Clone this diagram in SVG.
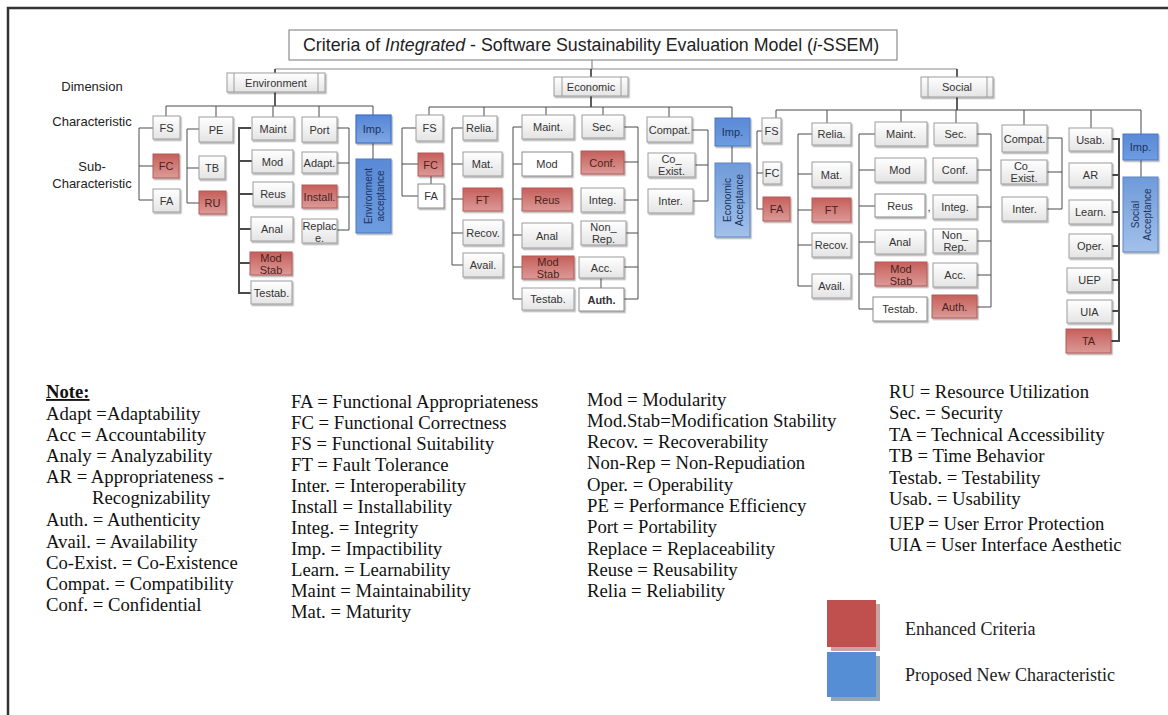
<svg xmlns="http://www.w3.org/2000/svg" width="1168" height="715" viewBox="0 0 1168 715">
<defs>
<linearGradient id="gw" x1="0" y1="0" x2="0" y2="1"><stop offset="0" stop-color="#ffffff"/><stop offset="1" stop-color="#e4e4e4"/></linearGradient>
<linearGradient id="gr" x1="0" y1="0" x2="0" y2="1"><stop offset="0" stop-color="#c65f5b"/><stop offset="1" stop-color="#dc9a97"/></linearGradient>
<linearGradient id="gb" x1="0" y1="0" x2="0" y2="1"><stop offset="0" stop-color="#5686d6"/><stop offset="1" stop-color="#7ea6e2"/></linearGradient>
<linearGradient id="gbd" x1="0" y1="0" x2="0" y2="1"><stop offset="0" stop-color="#5a8ad6"/><stop offset="1" stop-color="#6e9ce0"/></linearGradient>
<linearGradient id="gbl" x1="0" y1="0" x2="0" y2="1"><stop offset="0" stop-color="#6f9bd9"/><stop offset="1" stop-color="#a2c1ea"/></linearGradient>
<filter id="sh" x="-20%" y="-20%" width="140%" height="140%"><feDropShadow dx="1.2" dy="1.5" stdDeviation="0.7" flood-color="#000" flood-opacity="0.3"/></filter>
</defs>
<style>
.n{fill:url(#gw);stroke:#9c9c9c;stroke-width:1;filter:url(#sh)}
.w{fill:#fff;stroke:#8a8a8a;stroke-width:1;filter:url(#sh)}
.r{fill:url(#gr);stroke:#b25b58;stroke-width:1;filter:url(#sh)}
.b{fill:url(#gb);stroke:#3f6fd0;stroke-width:1.2;filter:url(#sh)}
.bd{fill:url(#gbd);stroke:#4a78c4;stroke-width:1;filter:url(#sh)}
.bl{fill:url(#gbl);stroke:#5f86c4;stroke-width:1;filter:url(#sh)}
.d{fill:url(#gw);stroke:#9c9c9c;stroke-width:1;filter:url(#sh)}
.il{stroke:#9c9c9c;stroke-width:1}
.t{font-family:"Liberation Sans",Arial,sans-serif;font-size:11px;fill:#333;text-anchor:middle}
.tr{fill:#4a2220}
.tb{fill:#1c3360}
.tv{font-family:"Liberation Sans",Arial,sans-serif;font-size:10px;fill:#1c3360;text-anchor:middle}
.lab{font-family:"Liberation Sans",Arial,sans-serif;font-size:13px;fill:#222;text-anchor:middle}
.c{fill:none;stroke:#4a4a4a;stroke-width:1}
.ck{fill:none;stroke:#2a2a2a;stroke-width:1.5}
.cg{fill:none;stroke:#8a8a8a;stroke-width:1.2}
.note{font-family:"Liberation Serif","Times New Roman",serif;font-size:18.7px;fill:#111}
.leg{font-family:"Liberation Serif","Times New Roman",serif;font-size:18px;fill:#222}
</style>
<rect width="1168" height="715" fill="#fff"/>
<path d="M8 715V8H1168" fill="none" stroke="#333" stroke-width="2.5"/>

<g id="title"><rect x="289" y="30" width="608" height="30" fill="#fff" stroke="#777" stroke-width="1"/>
<text x="303" y="51" font-family="Liberation Sans,Arial,sans-serif" font-size="17.8" fill="#222">Criteria of <tspan font-style="italic">Integrated</tspan> - Software Sustainability Evaluation Model (<tspan font-style="italic">i</tspan>-SSEM)</text></g>

<g id="labels">
<text class="lab" x="92" y="91">Dimension</text>
<text class="lab" x="92" y="126">Characteristic</text>
<text class="lab" x="92" y="171">Sub-</text>
<text class="lab" x="92" y="188">Characteristic</text>
</g>

<g id="connectors">
<path class="cg" d="M592 60V69M275 69H957"/>
<path class="ck" d="M275 69V73M591 69V77M957 69V77"/>
<path class="ck" d="M275 92V106M591 96V107M957 97V110"/>
<path class="c" d="M166 106H373M166 106V116M216 106V117M273 106V117M319 106V117M373 106V115"/>
<path class="c" d="M153 128H139V200H153M139 166H153"/>
<path class="c" d="M199 129H187V203H199M187 168H199"/>
<path class="c" style="stroke-width:2" d="M251 128H239V293H251M239 161H252M239 194H253M239 229H251M239 263H250"/>
<path class="c" d="M337 128H349V230H337M337 163H349M337 197H349"/>
<path class="c" d="M373 143V159"/>

<path class="c" d="M429 107H732M429 107V115M484 107V116M546 107V115M603 107V115M669 107V117M732 107V118"/>
<path class="c" d="M416 128H402V196H418M402 164H418M431 176V184"/>
<path class="c" d="M463 128H452V265H463M452 164H463M452 199H463M452 233H463"/>
<path class="c" d="M522 127H513V299H522M513 164H522M513 199H522M513 235H522M513 267H522"/>
<path class="c" d="M624 127H638V299H624M624 162H638M624 200H638M626 233H638M624 267H638M601 278V288"/>
<path class="c" d="M692 130H708V201H693M695 165H708"/>
<path class="c" d="M732 146V163"/>

<path class="c" d="M776 110H1141M776 110V118M827 110V123M901 110V122M956 110V123M1024 110V125M1091 110V128M1141 110V134"/>
<path class="c" d="M762 131H757V209H763M757 173H763"/>
<path class="c" d="M812 134H798V286H812M798 174H812M798 210H812M798 245H812"/>
<path class="c" d="M875 134H859V309H873M859 170H875M859 206H875M859 242H875M859 274H875"/>
<path class="c" d="M977 134H991V307H977M977 170H991M977 207H991M977 241H991M977 275H991"/>
<path class="c" d="M1047 138H1062V209H1047M1047 172H1062"/>
<path class="c" style="stroke-width:2" d="M1112 139H1119V341H1111M1112 175H1119M1112 212H1119M1112 246H1119M1112 280H1119M1112 311H1119"/>
<path class="c" d="M1141 160V177"/>
</g>

<g id="environment"><rect class="d" x="227" y="73" width="98" height="19"/><path class="il" d="M234 73V92M318 73V92"/><text class="t" x="276" y="86.5" font-size="10.5">Environment</text></g>
<g id="env-fs"><rect class="n" x="153" y="116" width="27" height="23"/><text class="t" x="166.5" y="131.5">FS</text></g>
<g id="env-pe"><rect class="n" x="199" y="117" width="34" height="25"/><text class="t" x="216" y="133.5">PE</text></g>
<g id="env-maint"><rect class="n" x="252" y="117" width="42" height="23"/><text class="t" x="273" y="132.5">Maint</text></g>
<g id="env-port"><rect class="n" x="302" y="117" width="35" height="25"/><text class="t" x="319.5" y="133.5">Port</text></g>
<g id="env-imp"><rect class="b" x="356" y="115" width="35" height="28"/><text class="t tb" x="373.5" y="133">Imp.</text></g>
<g id="env-fc"><rect class="r" x="153" y="154" width="26" height="24"/><text class="t tr" x="166" y="170">FC</text></g>
<g id="env-fa"><rect class="n" x="153" y="189" width="27" height="23"/><text class="t" x="166.5" y="204.5">FA</text></g>
<g id="env-tb"><rect class="n" x="199" y="156" width="26" height="23"/><text class="t" x="212" y="171.5">TB</text></g>
<g id="env-ru"><rect class="r" x="199" y="191" width="27" height="23"/><text class="t tr" x="212.5" y="206.5">RU</text></g>
<g id="env-mod"><rect class="n" x="252" y="150" width="41" height="23"/><text class="t" x="272.5" y="165.5">Mod</text></g>
<g id="env-reus"><rect class="n" x="253" y="182" width="40" height="24"/><text class="t" x="273" y="198">Reus</text></g>
<g id="env-anal"><rect class="n" x="251" y="217" width="42" height="24"/><text class="t" x="272" y="233">Anal</text></g>
<g id="env-modstab"><rect class="r" x="250" y="252" width="42" height="23"/><text class="t tr" x="271"><tspan x="271" y="262">Mod</tspan><tspan x="271" y="274">Stab</tspan></text></g>
<g id="env-testab"><rect class="n" x="251" y="281" width="41" height="23"/><text class="t" x="271.5" y="296.5">Testab.</text></g>
<g id="env-adapt"><rect class="n" x="302" y="152" width="35" height="21"/><text class="t" x="319.5" y="166.5">Adapt.</text></g>
<g id="env-install"><rect class="r" x="302" y="185" width="35" height="23"/><text class="t tr" x="319.5" y="200.5">Install.</text></g>
<g id="env-replace"><rect class="n" x="302" y="219" width="35" height="24"/><text class="t"><tspan x="319.5" y="230">Replac</tspan><tspan x="319.5" y="242">e.</tspan></text></g>
<g id="env-acceptance"><rect class="bd" x="356" y="159" width="35" height="74"/><text class="tv" transform="translate(373.5 196) rotate(-90)"><tspan x="0" y="-2">Environment</tspan><tspan x="0" y="10">acceptance</tspan></text></g>

<g id="economic"><rect class="d" x="554" y="77" width="74" height="19"/><path class="il" d="M562 77V96M621 77V96"/><text class="t" x="591" y="90.5" font-size="10.5">Economic</text></g>
<g id="eco-fs"><rect class="n" x="416" y="115" width="27" height="26"/><text class="t" x="429.5" y="132">FS</text></g>
<g id="eco-relia"><rect class="n" x="463" y="116" width="34" height="24"/><text class="t" x="480" y="132">Relia.</text></g>
<g id="eco-maint"><rect class="n" x="522" y="115" width="52" height="24"/><text class="t" x="548" y="131">Maint.</text></g>
<g id="eco-sec"><rect class="n" x="582" y="115" width="42" height="23"/><text class="t" x="603" y="130.5">Sec.</text></g>
<g id="eco-compat"><rect class="n" x="647" y="117" width="45" height="25"/><text class="t" x="669.5" y="133.5">Compat.</text></g>
<g id="eco-imp"><rect class="bd" x="715" y="118" width="35" height="28"/><text class="t tb" x="732.5" y="136">Imp.</text></g>
<g id="eco-fc"><rect class="r" x="418" y="153" width="25" height="23"/><text class="t tr" x="430.5" y="168.5">FC</text></g>
<g id="eco-fa"><rect class="w" x="418" y="184" width="26" height="24"/><text class="t" x="431" y="200">FA</text></g>
<g id="eco-mat"><rect class="n" x="463" y="152" width="39" height="24"/><text class="t" x="482.5" y="168">Mat.</text></g>
<g id="eco-ft"><rect class="r" x="463" y="188" width="39" height="23"/><text class="t tr" x="482.5" y="203.5">FT</text></g>
<g id="eco-recov"><rect class="n" x="463" y="220" width="40" height="25"/><text class="t" x="483" y="236.5">Recov.</text></g>
<g id="eco-avail"><rect class="n" x="463" y="253" width="40" height="24"/><text class="t" x="483" y="269">Avail.</text></g>
<g id="eco-mod"><rect class="w" x="522" y="152" width="50" height="24"/><text class="t" x="547" y="168">Mod</text></g>
<g id="eco-reus"><rect class="r" x="522" y="188" width="50" height="23"/><text class="t tr" x="547" y="203.5">Reus</text></g>
<g id="eco-anal"><rect class="n" x="522" y="223" width="50" height="25"/><text class="t" x="547" y="239.5">Anal</text></g>
<g id="eco-modstab"><rect class="r" x="522" y="256" width="52" height="23"/><text class="t tr"><tspan x="548" y="266">Mod</tspan><tspan x="548" y="278">Stab</tspan></text></g>
<g id="eco-testab"><rect class="n" x="522" y="288" width="52" height="22"/><text class="t" x="548" y="303">Testab.</text></g>
<g id="eco-conf"><rect class="r" x="581" y="151" width="43" height="23"/><text class="t tr" x="602.5" y="166.5">Conf.</text></g>
<g id="eco-integ"><rect class="n" x="581" y="188" width="43" height="24"/><text class="t" x="602.5" y="204">Integ.</text></g>
<g id="eco-nonrep"><rect class="n" x="581" y="221" width="45" height="24"/><text class="t"><tspan x="603.5" y="231">Non_</tspan><tspan x="603.5" y="243">Rep.</tspan></text></g>
<g id="eco-acc"><rect class="n" x="579" y="257" width="45" height="21"/><text class="t" x="601.5" y="271.5">Acc.</text></g>
<g id="eco-auth"><rect class="w" x="579" y="288" width="45" height="23"/><text class="t" x="601.5" y="303.5" font-weight="bold" fill="#222">Auth.</text></g>
<g id="eco-coexist"><rect class="n" x="648" y="153" width="47" height="24"/><text class="t"><tspan x="671.5" y="163">Co_</tspan><tspan x="671.5" y="175">Exist.</tspan></text></g>
<g id="eco-inter"><rect class="n" x="648" y="189" width="45" height="24"/><text class="t" x="670.5" y="205">Inter.</text></g>
<g id="eco-acceptance"><rect class="bl" x="715" y="163" width="35" height="74"/><text class="tv" transform="translate(732.5 200) rotate(-90)"><tspan x="0" y="-2">Economic</tspan><tspan x="0" y="10">Acceptance</tspan></text></g>

<g id="social"><rect class="d" x="921" y="77" width="72" height="20"/><path class="il" d="M928 77V97M987 77V97"/><text class="t" x="957" y="91" font-size="10.5">Social</text></g>
<g id="soc-fs"><rect class="n" x="762" y="118" width="19" height="25"/><text class="t" x="771.5" y="134.5" font-size="10">FS</text></g>
<g id="soc-relia"><rect class="n" x="812" y="123" width="39" height="22"/><text class="t" x="831.5" y="138">Relia.</text></g>
<g id="soc-maint"><rect class="n" x="875" y="122" width="52" height="24"/><text class="t" x="901" y="138">Maint.</text></g>
<g id="soc-sec"><rect class="n" x="934" y="123" width="43" height="22"/><text class="t" x="955.5" y="138">Sec.</text></g>
<g id="soc-compat"><rect class="n" x="1002" y="125" width="45" height="27"/><text class="t" x="1024.5" y="142.5">Compat.</text></g>
<g id="soc-usab"><rect class="n" x="1069" y="128" width="43" height="23"/><text class="t" x="1090.5" y="143.5">Usab.</text></g>
<g id="soc-imp"><rect class="bd" x="1123" y="134" width="35" height="26"/><text class="t tb" x="1140.5" y="151">Imp.</text></g>
<g id="soc-fc"><rect class="n" x="763" y="162" width="18" height="22"/><text class="t" x="772" y="177" font-size="10">FC</text></g>
<g id="soc-fa"><rect class="r" x="763" y="197" width="27" height="24"/><text class="t tr" x="776.5" y="213">FA</text></g>
<g id="soc-mat"><rect class="n" x="812" y="162" width="39" height="25"/><text class="t" x="831.5" y="178.5">Mat.</text></g>
<g id="soc-ft"><rect class="r" x="812" y="198" width="39" height="24"/><text class="t tr" x="831.5" y="214">FT</text></g>
<g id="soc-recov"><rect class="n" x="812" y="233" width="39" height="24"/><text class="t" x="831.5" y="249">Recov.</text></g>
<g id="soc-avail"><rect class="n" x="812" y="274" width="39" height="24"/><text class="t" x="831.5" y="290">Avail.</text></g>
<g id="soc-mod"><rect class="n" x="875" y="158" width="50" height="24"/><text class="t" x="900" y="174">Mod</text></g>
<g id="soc-reus"><rect class="w" x="875" y="194" width="50" height="23"/><text class="t" x="900" y="209.5">Reus</text><text class="t" x="929" y="211">,</text></g>
<g id="soc-anal"><rect class="n" x="875" y="230" width="50" height="24"/><text class="t" x="900" y="246">Anal</text></g>
<g id="soc-modstab"><rect class="r" x="875" y="262" width="52" height="24"/><text class="t tr"><tspan x="901" y="272.5">Mod</tspan><tspan x="901" y="284.5">Stab</tspan></text></g>
<g id="soc-testab"><rect class="w" x="873" y="297" width="54" height="24"/><text class="t" x="900" y="313">Testab.</text></g>
<g id="soc-conf"><rect class="n" x="933" y="158" width="44" height="24"/><text class="t" x="955" y="174">Conf.</text></g>
<g id="soc-integ"><rect class="n" x="933" y="195" width="44" height="24"/><text class="t" x="955" y="211">Integ.</text></g>
<g id="soc-nonrep"><rect class="n" x="933" y="229" width="44" height="24"/><text class="t"><tspan x="955" y="239">Non_</tspan><tspan x="955" y="251">Rep.</tspan></text></g>
<g id="soc-acc"><rect class="n" x="933" y="263" width="44" height="24"/><text class="t" x="955" y="279">Acc.</text></g>
<g id="soc-auth"><rect class="r" x="932" y="295" width="45" height="23"/><text class="t tr" x="954.5" y="310.5">Auth.</text></g>
<g id="soc-coexist"><rect class="n" x="1001" y="160" width="46" height="24"/><text class="t"><tspan x="1024" y="170">Co_</tspan><tspan x="1024" y="182">Exist.</tspan></text></g>
<g id="soc-inter"><rect class="n" x="1002" y="197" width="45" height="24"/><text class="t" x="1024.5" y="213">Inter.</text></g>
<g id="soc-ar"><rect class="n" x="1069" y="163" width="43" height="24"/><text class="t" x="1090.5" y="179">AR</text></g>
<g id="soc-learn"><rect class="n" x="1069" y="200" width="43" height="24"/><text class="t" x="1090.5" y="216">Learn.</text></g>
<g id="soc-oper"><rect class="n" x="1069" y="234" width="43" height="24"/><text class="t" x="1090.5" y="250">Oper.</text></g>
<g id="soc-uep"><rect class="n" x="1067" y="268" width="45" height="24"/><text class="t" x="1089.5" y="284">UEP</text></g>
<g id="soc-uia"><rect class="n" x="1067" y="300" width="45" height="23"/><text class="t" x="1089.5" y="315.5">UIA</text></g>
<g id="soc-ta"><rect class="r" x="1066" y="329" width="45" height="24"/><text class="t tr" x="1088.5" y="345">TA</text></g>
<g id="soc-acceptance"><rect class="bl" x="1123" y="177" width="35" height="75"/><text class="tv" transform="translate(1140.5 214.5) rotate(-90)"><tspan x="0" y="-2">Social</tspan><tspan x="0" y="10">Acceptance</tspan></text></g>

<g id="notes" class="note">
<text x="46" y="398" font-weight="bold" text-decoration="underline">Note:</text>
<text x="46" y="420">Adapt =Adaptability</text>
<text x="46" y="441">Acc = Accountability</text>
<text x="46" y="462">Analy = Analyzability</text>
<text x="46" y="483">AR = Appropriateness -</text>
<text x="92" y="504">Recognizability</text>
<text x="46" y="526">Auth. = Authenticity</text>
<text x="46" y="548">Avail. = Availability</text>
<text x="46" y="569">Co-Exist. = Co-Existence</text>
<text x="46" y="590">Compat. = Compatibility</text>
<text x="46" y="611">Conf. = Confidential</text>

<text x="291" y="408">FA = Functional Appropriateness</text>
<text x="291" y="429">FC = Functional Correctness</text>
<text x="291" y="450">FS = Functional Suitability</text>
<text x="291" y="471">FT = Fault Tolerance</text>
<text x="291" y="492">Inter. = Interoperability</text>
<text x="291" y="513">Install = Installability</text>
<text x="291" y="534">Integ. = Integrity</text>
<text x="291" y="555">Imp. = Impactibility</text>
<text x="291" y="576">Learn. = Learnability</text>
<text x="291" y="597">Maint = Maintainability</text>
<text x="291" y="618">Mat. = Maturity</text>

<text x="587" y="406">Mod = Modularity</text>
<text x="587" y="427">Mod.Stab=Modification Stability</text>
<text x="587" y="448">Recov. = Recoverability</text>
<text x="587" y="469">Non-Rep = Non-Repudiation</text>
<text x="587" y="491">Oper. = Operability</text>
<text x="587" y="512">PE = Performance Efficiency</text>
<text x="587" y="533">Port = Portability</text>
<text x="587" y="555">Replace = Replaceability</text>
<text x="587" y="576">Reuse = Reusability</text>
<text x="587" y="597">Relia = Reliability</text>

<text x="889" y="398">RU = Resource Utilization</text>
<text x="889" y="419">Sec. = Security</text>
<text x="889" y="441">TA = Technical Accessibility</text>
<text x="889" y="462">TB = Time Behavior</text>
<text x="889" y="484">Testab. = Testability</text>
<text x="889" y="505">Usab. = Usability</text>
<text x="889" y="530">UEP = User Error Protection</text>
<text x="889" y="551">UIA = User Interface Aesthetic</text>
</g>

<g id="legend">
<rect x="831" y="604" width="49" height="47" fill="#c9a3a3"/>
<rect x="827" y="600" width="49" height="47" fill="#c0504d"/>
<rect x="831" y="656" width="49" height="45" fill="#8ea6b8"/>
<rect x="827" y="652" width="49" height="45" fill="#558ed5"/>
<text class="leg" x="905" y="635">Enhanced Criteria</text>
<text class="leg" x="905" y="681">Proposed New Characteristic</text>
</g>
</svg>
